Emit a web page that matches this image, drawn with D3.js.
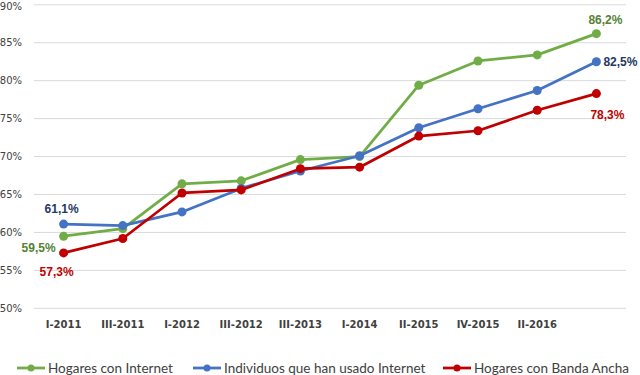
<!DOCTYPE html>
<html>
<head>
<meta charset="utf-8">
<script src="https://cdn.jsdelivr.net/npm/d3@7/dist/d3.min.js"></script>
<style>
  body { margin: 0; background: #fff; }
  svg { display: block; }
</style>
</head>
<body>
<svg id="chart" width="640" height="375"></svg>
<script>
// Periods (last one has no label on the axis)
const periods = ["I-2011", "III-2011", "I-2012", "III-2012", "III-2013", "I-2014", "II-2015", "IV-2015", "II-2016", ""]
const yTicks = [50, 55, 60, 65, 70, 75, 80, 85, 90]

const hogaresInternet = [59.5, 60.5, 66.4, 66.8, 69.6, 70.0, 79.4, 82.6, 83.4, 86.2]
const individuosInternet = [61.1, 60.9, 62.7, 65.8, 68.1, 70.1, 73.8, 76.3, 78.7, 82.5]
const hogaresBandaAncha = [57.3, 59.2, 65.2, 65.6, 68.4, 68.6, 72.7, 73.4, 76.1, 78.3]

const series = [
  { name: "Hogares con Internet", values: hogaresInternet, color: "#70ad47", label: "#548235" },
  { name: "Individuos que han usado Internet", values: individuosInternet, color: "#4472c4", label: "#1f3864" },
  { name: "Hogares con Banda Ancha", values: hogaresBandaAncha, color: "#c00000", label: "#c00000" }
]

const svg = d3.select("#chart")
const plotLeft = 34, plotRight = 626, plotTop = 4.8, plotBottom = 308.3

const x = d3.scaleBand().domain(periods.map((d, i) => i)).range([plotLeft, plotRight])
const y = d3.scaleLinear().domain([50, 90]).range([plotBottom, plotTop])
const cx = i => x(i) + x.bandwidth() / 2

// gridlines + y labels
svg.append("g")
  .selectAll("line")
  .data(yTicks)
  .join("line")
  .attr("x1", plotLeft).attr("x2", plotRight)
  .attr("y1", d => y(d)).attr("y2", d => y(d))
  .attr("stroke", "#d9d9d9").attr("stroke-width", 1)

svg.append("g")
  .selectAll("text")
  .data(yTicks)
  .join("text")
  .attr("x", 22).attr("y", d => Math.max(y(d), 6))
  .attr("dy", "0.35em")
  .attr("text-anchor", "end")
  .attr("font-family", "DejaVu Sans")
  .attr("font-size", 10)
  .attr("fill", "#404040")
  .text(d => d + "%")

// x labels
svg.append("g")
  .selectAll("text")
  .data(periods)
  .join("text")
  .attr("x", (d, i) => cx(i)).attr("y", 324.5)
  .attr("dy", "0.35em")
  .attr("text-anchor", "middle")
  .attr("font-family", "DejaVu Sans")
  .attr("font-weight", "bold")
  .attr("font-size", 10)
  .attr("fill", "#404040")
  .text(d => d)

const line = d3.line().x((d, i) => cx(i)).y(d => y(d))

series.forEach(s => {
  const g = svg.append("g")
  g.append("path")
    .attr("d", line(s.values))
    .attr("fill", "none")
    .attr("stroke", s.color)
    .attr("stroke-width", 2.75)
    .attr("stroke-linejoin", "round")
  g.selectAll("circle")
    .data(s.values)
    .join("circle")
    .attr("cx", (d, i) => cx(i)).attr("cy", d => y(d))
    .attr("r", 4.5)
    .attr("fill", s.color)
})

// data labels
const fmt = v => v.toFixed(1).replace(".", ",") + "%"
const n = periods.length - 1
const labels = [
  { s: series[0], i: 0, dx: -25, dy: 12, anchor: "middle" },
  { s: series[1], i: 0, dx: -2, dy: -15, anchor: "middle" },
  { s: series[2], i: 0, dx: -7, dy: 19, anchor: "middle" },
  { s: series[0], i: n, dx: 9, dy: -14, anchor: "middle" },
  { s: series[1], i: n, dx: 7, dy: 0, anchor: "start" },
  { s: series[2], i: n, dx: 11, dy: 21, anchor: "middle" }
]
svg.append("g")
  .selectAll("text")
  .data(labels)
  .join("text")
  .attr("x", d => cx(d.i) + d.dx)
  .attr("y", d => y(d.s.values[d.i]) + d.dy)
  .attr("dy", "0.35em")
  .attr("text-anchor", d => d.anchor)
  .attr("font-family", "Liberation Sans")
  .attr("font-weight", "bold")
  .attr("font-size", 12)
  .attr("fill", d => d.s.label)
  .text(d => fmt(d.s.values[d.i]))

// legend
const legendX = [17, 193, 443]
const legend = svg.append("g")
  .selectAll("g")
  .data(series)
  .join("g")
  .attr("transform", (d, i) => `translate(${legendX[i]},368)`)
legend.append("line")
  .attr("x1", 0).attr("x2", 28)
  .attr("stroke", d => d.color).attr("stroke-width", 2.75)
legend.append("circle")
  .attr("cx", 14).attr("r", 3.5)
  .attr("fill", d => d.color)
legend.append("text")
  .attr("x", 31).attr("dy", "0.35em")
  .attr("font-family", "Lato")
  .attr("font-size", 13.5)
  .attr("fill", "#404040")
  .text(d => d.name)
</script>
</body>
</html>
